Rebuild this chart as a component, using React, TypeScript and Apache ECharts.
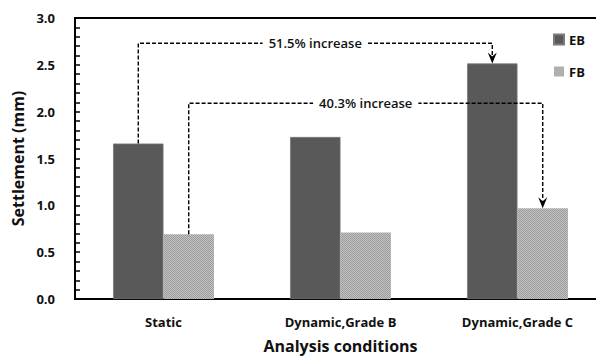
import React, { useEffect, useRef } from "react";
import * as echarts from "echarts";

const categories = ["Static", "Dynamic,Grade B", "Dynamic,Grade C"];
const ebValues = [1.66, 1.73, 2.515];
const fbValues = [0.69, 0.71, 0.968];
const yTicks = { min: 0, max: 3, interval: 0.5 };

// Increase annotations: bracket from a static bar to a Grade C bar
const annoSeries = ["EB", "FB"];
const annoFrom = [0, 0];
const annoTo = [2, 2];
const annoLevels = [2.73, 2.09];
const annoLabels = ["51.5% increase", "40.3% increase"];

const FONT = "'Open Sans', Lato, sans-serif";
const CAT_GAP = 0.43;

function makeTexture(): HTMLCanvasElement {
  const c = document.createElement("canvas");
  c.width = 2;
  c.height = 2;
  const ctx = c.getContext("2d")!;
  ctx.fillStyle = "#c2c2c2";
  ctx.fillRect(0, 0, 2, 2);
  ctx.fillStyle = "#9c9c9c";
  ctx.fillRect(0, 0, 1, 1);
  ctx.fillRect(1, 1, 1, 1);
  return c;
}

export default function App() {
  const ref = useRef<HTMLDivElement>(null);

  useEffect(() => {
    document.body.style.margin = "0";
    const chart = echarts.init(ref.current!, null, { renderer: "svg" });
    const texture = { image: makeTexture(), repeat: "repeat" } as any;

    chart.setOption({
      animation: false,
      backgroundColor: "#fff",
      grid: {
        left: 75,
        top: 18,
        right: -10,
        bottom: 58,
        outerBoundsMode: "none",
        containLabel: false,
        show: true,
        borderColor: "#000",
        borderWidth: 2,
        backgroundColor: "transparent",
      },
      legend: {
        orient: "vertical",
        left: 553,
        top: 33,
        padding: 0,
        itemWidth: 10,
        itemHeight: 10,
        itemGap: 19,
        icon: "rect",
        textStyle: { fontFamily: FONT, fontWeight: "bold", fontSize: 13, color: "#111" },
        data: ["EB", "FB"],
      },
      xAxis: {
        type: "category",
        data: categories,
        name: "Analysis conditions",
        nameLocation: "middle",
        nameGap: 39,
        nameTextStyle: { fontFamily: FONT, fontWeight: "bold", fontSize: 16, color: "#111" },
        axisLine: { lineStyle: { color: "#000", width: 2 } },
        axisTick: { inside: true, length: 4, lineStyle: { color: "#000", width: 1.5 } },
        axisLabel: { margin: 16, fontFamily: FONT, fontWeight: "bold", fontSize: 13, color: "#111" },
      },
      yAxis: {
        type: "value",
        min: yTicks.min,
        max: yTicks.max,
        interval: yTicks.interval,
        name: "Settlement (mm)",
        nameLocation: "middle",
        nameGap: 44,
        nameTextStyle: { fontFamily: FONT, fontWeight: "bold", fontSize: 16, color: "#111" },
        axisLine: { show: true, lineStyle: { color: "#000", width: 2 } },
        axisTick: { show: true, inside: true, length: 5, lineStyle: { color: "#000", width: 1.5 } },
        minorTick: { show: true, splitNumber: 5, length: 5, lineStyle: { color: "#000", width: 1.5 } },
        splitLine: { show: false },
        axisLabel: {
          margin: 20,
          fontFamily: FONT,
          fontWeight: "bold",
          fontSize: 13,
          color: "#111",
          formatter: (v: number) => v.toFixed(1),
        },
      },
      series: [
        {
          name: "EB",
          type: "bar",
          data: ebValues,
          barGap: "0%",
          barCategoryGap: CAT_GAP * 100 + "%",
          itemStyle: { color: "#595959", borderColor: "#7a7a7a", borderWidth: 0.8 },
        },
        {
          name: "FB",
          type: "bar",
          data: fbValues,
          barGap: "0%",
          barCategoryGap: CAT_GAP * 100 + "%",
          itemStyle: { color: texture },
        },
      ],
    });

    // Bracket annotations placed from the axes' own scale
    const px = (i: number, v: number) =>
      chart.convertToPixel({ xAxisIndex: 0, yAxisIndex: 0 }, [i, v]) as number[];
    const band = px(1, 0)[0] - px(0, 0)[0];
    const offset = (band * (1 - CAT_GAP)) / 4;
    const barX = (i: number, s: string) => px(i, 0)[0] + (s === "EB" ? -offset : offset);
    const seriesVal = (i: number, s: string) => (s === "EB" ? ebValues[i] : fbValues[i]);

    const elements: any[] = [];
    const dash = { stroke: "#000", lineWidth: 1.4, lineDash: [4, 2], fill: "none" };
    annoLabels.forEach((label, k) => {
      const s = annoSeries[k];
      const x1 = barX(annoFrom[k], s);
      const x2 = barX(annoTo[k], s);
      const y1 = px(annoFrom[k], seriesVal(annoFrom[k], s))[1];
      const yl = px(0, annoLevels[k])[1];
      const y2 = px(annoTo[k], seriesVal(annoTo[k], s))[1];
      elements.push({
        type: "polyline",
        shape: { points: [[x1, y1], [x1, yl], [x2, yl], [x2, y2 - 8]] },
        style: dash,
        z: 100,
      });
      elements.push({
        type: "polygon",
        shape: {
          points: [
            [x2, y2],
            [x2 - 4.5, y2 - 11],
            [x2, y2 - 7],
            [x2 + 4.5, y2 - 11],
          ],
        },
        style: { fill: "#000" },
        z: 101,
      });
      elements.push({
        type: "text",
        x: (x1 + x2) / 2,
        y: yl,
        style: {
          text: label,
          fontFamily: FONT,
          fontWeight: 600,
          fontSize: 13,
          fill: "#111",
          align: "center",
          verticalAlign: "middle",
          backgroundColor: "#fff",
          padding: [2, 6],
        },
        z: 102,
      });
    });
    chart.setOption({ graphic: { elements } });

    return () => chart.dispose();
  }, []);

  return <div ref={ref} style={{ width: 596, height: 357 }} />;
}
